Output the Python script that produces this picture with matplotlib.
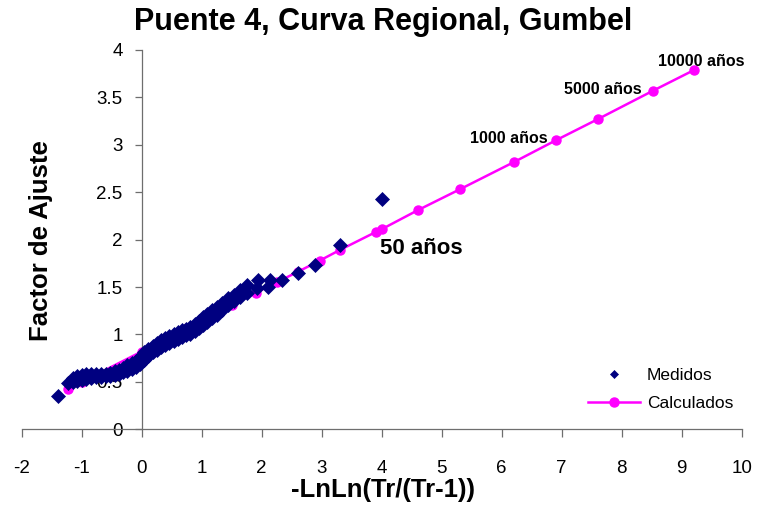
import matplotlib
matplotlib.use("Agg")
import matplotlib.pyplot as plt
from matplotlib.ticker import MultipleLocator, FormatStrFormatter

plt.rcParams['font.family'] = ['Liberation Sans', 'DejaVu Sans']
plt.rcParams['axes.unicode_minus'] = False

# Measured regional factors (Gumbel reduced variate vs. normalised flow)
medidos_x = [-1.39, -1.22,
             -1.15, -1.08, -1.00, -0.92, -0.84, -0.76, -0.68, -0.60, -0.52, -0.45,
             -0.38, -0.31, -0.24, -0.17, -0.10, -0.03, 0.04, 0.11, 0.18, 0.25,
             0.32, 0.39, 0.46, 0.53, 0.60, 0.67, 0.74, 0.81, 0.88, 0.95, 1.02,
             1.09, 1.17, 1.25, 1.34, 1.43, 1.53, 1.64, 1.76, 1.94, 2.14,
             -1.15, -1.08, -1.00, -0.92, -0.84, -0.76, -0.68, -0.60, -0.52, -0.45,
             -0.38, -0.31, -0.24, -0.17, -0.10, -0.03, 0.04, 0.11, 0.18, 0.25,
             0.32, 0.39, 0.46, 0.53, 0.60, 0.67, 0.74, 0.81, 0.88, 0.95, 1.02,
             1.09, 1.17, 1.25, 1.34, 1.43, 1.53, 1.64, 1.76, 1.92, 2.11,
             2.33, 2.61, 2.89, 3.30, 4.00]
medidos_y = [0.35, 0.49,
             0.54, 0.56, 0.57, 0.58, 0.58, 0.58, 0.58, 0.58, 0.59, 0.61,
             0.63, 0.65, 0.68, 0.70, 0.72, 0.76, 0.82, 0.85, 0.88, 0.91,
             0.94, 0.96, 0.98, 1.00, 1.03, 1.05, 1.06, 1.08, 1.11, 1.14, 1.18,
             1.22, 1.26, 1.29, 1.33, 1.38, 1.42, 1.47, 1.52, 1.57, 1.57,
             0.50, 0.51, 0.52, 0.53, 0.54, 0.55, 0.55, 0.56, 0.56, 0.57,
             0.58, 0.60, 0.62, 0.64, 0.66, 0.69, 0.73, 0.77, 0.81, 0.84,
             0.87, 0.89, 0.91, 0.93, 0.95, 0.97, 0.99, 1.01, 1.04, 1.07, 1.10,
             1.13, 1.17, 1.21, 1.26, 1.31, 1.35, 1.40, 1.44, 1.49, 1.50,
             1.57, 1.65, 1.73, 1.94, 2.43]

# Fitted Gumbel regional curve
calc_x = [-1.22, -1.00, 0.00, 0.37, 0.75, 1.10, 1.50,
          1.90, 2.25, 2.60, 2.97, 3.30, 3.90, 4.00, 4.60, 5.30, 6.21,
          6.91, 7.60, 8.52, 9.21]
calc_y = [0.43, 0.50, 0.82, 0.94, 1.07, 1.18, 1.31,
          1.44, 1.55, 1.66, 1.78, 1.89, 2.08, 2.11, 2.31, 2.53, 2.82,
          3.05, 3.27, 3.57, 3.79]

# Return-period annotations: (index in calc arrays, text, offset in points, align, size)
etiquetas = [
    (12, "50 años", (3, -15.5), "left", 16),
    (17, "1000 años", (-6, -2.2), "right", 11.5),
    (19, "5000 años", (-8, -2.6), "right", 11.5),
    (20, "10000 años", (4.8, 3), "center", 11.5),
]

W, H = 757, 508
fig = plt.figure(figsize=(W / 100, H / 100), dpi=100)
x0, x1, y0, y1 = 21.7, 741.7, 429.3, 50.0
ax = fig.add_axes([x0 / W, 1 - y0 / H, (x1 - x0) / W, (y0 - y1) / H])

ax.plot(calc_x, calc_y, '-o', color='#FF00FF', lw=1.8, ms=6.5,
        label='Calculados', zorder=2, clip_on=False)
ax.plot(medidos_x, medidos_y, linestyle='none', marker='D', ms=7.1,
        color='#000080', mec='#000080', mew=0.5, label='Medidos',
        zorder=3, clip_on=False)

ax.set_xlim(-2, 10)
ax.set_ylim(0, 4)
ax.xaxis.set_major_locator(MultipleLocator(1))
ax.yaxis.set_major_locator(MultipleLocator(0.5))
ax.yaxis.set_major_formatter(FormatStrFormatter('%g'))

axis_col = '#6e6e6e'
ax.spines['left'].set_position(('data', 0))
for side in ('top', 'right'):
    ax.spines[side].set_visible(False)
for side in ('left', 'bottom'):
    ax.spines[side].set_color(axis_col)
    ax.spines[side].set_linewidth(0.9)
ax.tick_params(axis='x', direction='out', length=5.8, width=0.9, color=axis_col,
               labelsize=13.5, pad=16)
ax.tick_params(axis='y', direction='out', length=4.7, width=0.9, color=axis_col,
               labelsize=13.5, pad=9)

for idx, txt, off, ha, size in etiquetas:
    ax.annotate(txt, xy=(calc_x[idx], calc_y[idx]), xytext=off,
                textcoords='offset points', ha=ha, va='baseline',
                fontsize=size, fontweight='bold', zorder=4)

fig.text(383.5 / W, 1 - 30 / H, "Puente 4, Curva Regional, Gumbel",
         ha='center', va='baseline', fontsize=22, fontweight='bold')
fig.text(383 / W, 1 - 497.5 / H, "-LnLn(Tr/(Tr-1))",
         ha='center', va='baseline', fontsize=18.5, fontweight='bold')
fig.text(41.5 / W, 1 - 241 / H, "Factor de Ajuste", rotation=90,
         ha='center', va='center', fontsize=18.5, fontweight='bold')

handles, labels = ax.get_legend_handles_labels()
leg = ax.legend(handles[::-1], labels[::-1], loc='upper left',
                bbox_to_anchor=(588 / W, 1 - 368 / H),
                bbox_transform=fig.transFigure, frameon=False,
                fontsize=12.5, handlelength=3.0, handletextpad=0.4,
                labelspacing=0.72, borderpad=0, borderaxespad=0)
leg.legend_handles[0].set_markersize(4.4)

fig.savefig("out.png", dpi=100)
